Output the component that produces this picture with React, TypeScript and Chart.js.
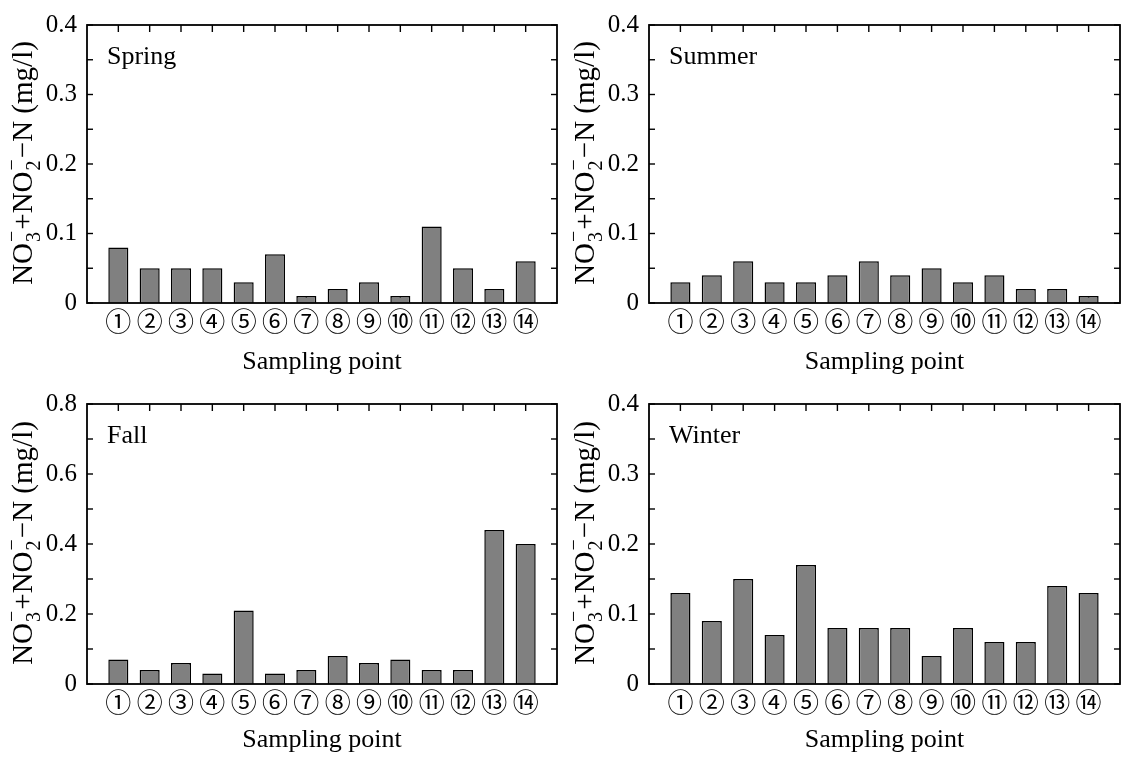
import React, { useEffect, useRef } from "react";
import { Chart, registerables } from "chart.js";

Chart.register(...registerables);

// ---------- data ----------
const SAMPLING_POINTS = ["①", "②", "③", "④", "⑤", "⑥", "⑦", "⑧", "⑨", "⑩", "⑪", "⑫", "⑬", "⑭"];
const SEASONS = ["Spring", "Summer", "Fall", "Winter"];
const SPRING = [0.08, 0.05, 0.05, 0.05, 0.03, 0.07, 0.01, 0.02, 0.03, 0.01, 0.11, 0.05, 0.02, 0.06];
const SUMMER = [0.03, 0.04, 0.06, 0.03, 0.03, 0.04, 0.06, 0.04, 0.05, 0.03, 0.04, 0.02, 0.02, 0.01];
const FALL = [0.07, 0.04, 0.06, 0.03, 0.21, 0.03, 0.04, 0.08, 0.06, 0.07, 0.04, 0.04, 0.44, 0.4];
const WINTER = [0.13, 0.09, 0.15, 0.07, 0.17, 0.08, 0.08, 0.08, 0.04, 0.08, 0.06, 0.06, 0.14, 0.13];
const Y_MAX = [0.4, 0.4, 0.8, 0.4];
const Y_STEP = [0.1, 0.1, 0.2, 0.1];
const X_TITLE = "Sampling point";

// ---------- layout / style ----------
const SERIF = "'Liberation Serif', 'Times New Roman', serif";
const CIRC = "'Liberation Serif', 'Noto Sans CJK JP', serif";
const PANELS = [
  { left: 0, top: 0, w: 563, h: 380, yW: 87, padTop: 19, padRight: 4, xH: 77 },
  { left: 563, top: 0, w: 564, h: 380, yW: 86, padTop: 19, padRight: 7, xH: 77 },
  { left: 0, top: 379, w: 563, h: 379, yW: 87, padTop: 21, padRight: 4, xH: 74 },
  { left: 563, top: 379, w: 564, h: 379, yW: 86, padTop: 21, padRight: 7, xH: 74 },
];
const SERIES = [SPRING, SUMMER, FALL, WINTER];

function makePlugin(season: string, step: number) {
  const line = (ctx: CanvasRenderingContext2D, x1: number, y1: number, x2: number, y2: number) => {
    ctx.beginPath();
    ctx.moveTo(x1, y1);
    ctx.lineTo(x2, y2);
    ctx.stroke();
  };
  return {
    id: "frameTicks",
    beforeDatasetsDraw(chart: any) {
      const { ctx, chartArea } = chart;
      const { left, right, top, bottom } = chartArea;
      const ys = chart.scales.y;
      const xs = chart.scales.x;
      ctx.save();
      ctx.strokeStyle = "#000";
      ctx.lineWidth = 1.4;
      const half = step / 2;
      const n = Math.round(ys.max / half);
      for (let k = 0; k <= n; k++) {
        const py = ys.getPixelForValue(k * half);
        line(ctx, left, py, left + 6, py);
        line(ctx, right - 6, py, right, py);
      }
      for (let i = 1; i <= SAMPLING_POINTS.length; i++) {
        const px = xs.getPixelForValue(i);
        line(ctx, px, top, px, top + 7);
        line(ctx, px, bottom - 7, px, bottom);
      }
      ctx.restore();
    },
    afterDatasetsDraw(chart: any) {
      const { ctx, chartArea } = chart;
      const { left, right, top, bottom } = chartArea;
      ctx.save();
      ctx.strokeStyle = "#000";
      ctx.lineWidth = 1.8;
      ctx.strokeRect(left, top, right - left, bottom - top);

      // season label
      ctx.fillStyle = "#000";
      ctx.font = `26px ${SERIF}`;
      ctx.textBaseline = "alphabetic";
      ctx.textAlign = "left";
      ctx.fillText(season, left + 20, top + 39);

      // y-axis title with stacked sub/superscripts
      const big = 29;
      const small = 20;
      type Seg = { t: string; sub?: string; sup?: string };
      const segs: Seg[] = [
        { t: "NO" },
        { t: "", sub: "3", sup: "−" },
        { t: "+NO" },
        { t: "", sub: "2", sup: "−" },
        { t: "−N (mg/l)" },
      ];
      const widths = segs.map((s) => {
        if (s.t) {
          ctx.font = `${big}px ${SERIF}`;
          return ctx.measureText(s.t).width;
        }
        ctx.font = `${small}px ${SERIF}`;
        return Math.max(ctx.measureText(s.sub || "").width, ctx.measureText(s.sup || "").width) + 2;
      });
      const total = widths.reduce((a, b) => a + b, 0);
      const cy = (top + bottom) / 2 - 1;
      ctx.translate(left - 55, cy);
      ctx.rotate(-Math.PI / 2);
      let x = -total / 2;
      segs.forEach((s, i) => {
        if (s.t) {
          ctx.font = `${big}px ${SERIF}`;
          ctx.fillText(s.t, x, 0);
        } else {
          ctx.font = `${small}px ${SERIF}`;
          ctx.fillText(s.sub || "", x + 1, 8);
          ctx.fillText(s.sup || "", x + 1, -14);
        }
        x += widths[i];
      });
      ctx.restore();
    },
  };
}

function Panel({ idx }: { idx: number }) {
  const ref = useRef<HTMLCanvasElement | null>(null);
  const p = PANELS[idx];
  useEffect(() => {
    if (!ref.current) return;
    const labels = ["", ...SAMPLING_POINTS, ""];
    const data = [null, ...SERIES[idx], null];
    const chart = new Chart(ref.current, {
      type: "bar",
      data: {
        labels,
        datasets: [
          {
            data,
            backgroundColor: "#808080",
            borderColor: "#000",
            borderWidth: 1.5,
            barPercentage: 0.64,
            categoryPercentage: 1,
          },
        ],
      },
      options: {
        responsive: false,
        animation: false,
        devicePixelRatio: 1,
        layout: { padding: { left: 0, top: p.padTop, right: p.padRight, bottom: 0 } },
        plugins: { legend: { display: false }, tooltip: { enabled: false } },
        scales: {
          x: {
            type: "category",
            offset: false,
            grid: { display: false, drawTicks: false },
            border: { display: false },
            ticks: {
              autoSkip: false,
              maxRotation: 0,
              minRotation: 0,
              padding: 6,
              color: "#000",
              font: { family: CIRC, size: 26 },
            },
            title: {
              display: true,
              text: X_TITLE,
              color: "#000",
              font: { family: SERIF, size: 26 },
              padding: { top: 0, bottom: 2 },
            },
            afterFit: (s: any) => {
              s.height = p.xH;
            },
          },
          y: {
            min: 0,
            max: Y_MAX[idx],
            grid: { display: false, drawTicks: false },
            border: { display: false },
            ticks: {
              stepSize: Y_STEP[idx],
              padding: 10,
              color: "#000",
              font: { family: SERIF, size: 25 },
              callback: (v: any) => (Number(v) === 0 ? "0" : Number(v).toFixed(1)),
            },
            afterFit: (s: any) => {
              s.width = p.yW;
            },
          },
        },
      },
      plugins: [makePlugin(SEASONS[idx], Y_STEP[idx]) as any],
    });
    return () => chart.destroy();
  }, [idx]);
  return (
    <canvas
      ref={ref}
      width={p.w}
      height={p.h}
      style={{ position: "absolute", left: p.left, top: p.top, width: p.w, height: p.h, display: "block" }}
    />
  );
}

export default function App() {
  return (
    <div style={{ position: "absolute", left: 0, top: 0, width: 1127, height: 758, background: "#fff", overflow: "hidden" }}>
      {[0, 1, 2, 3].map((i) => (
        <Panel key={i} idx={i} />
      ))}
    </div>
  );
}
